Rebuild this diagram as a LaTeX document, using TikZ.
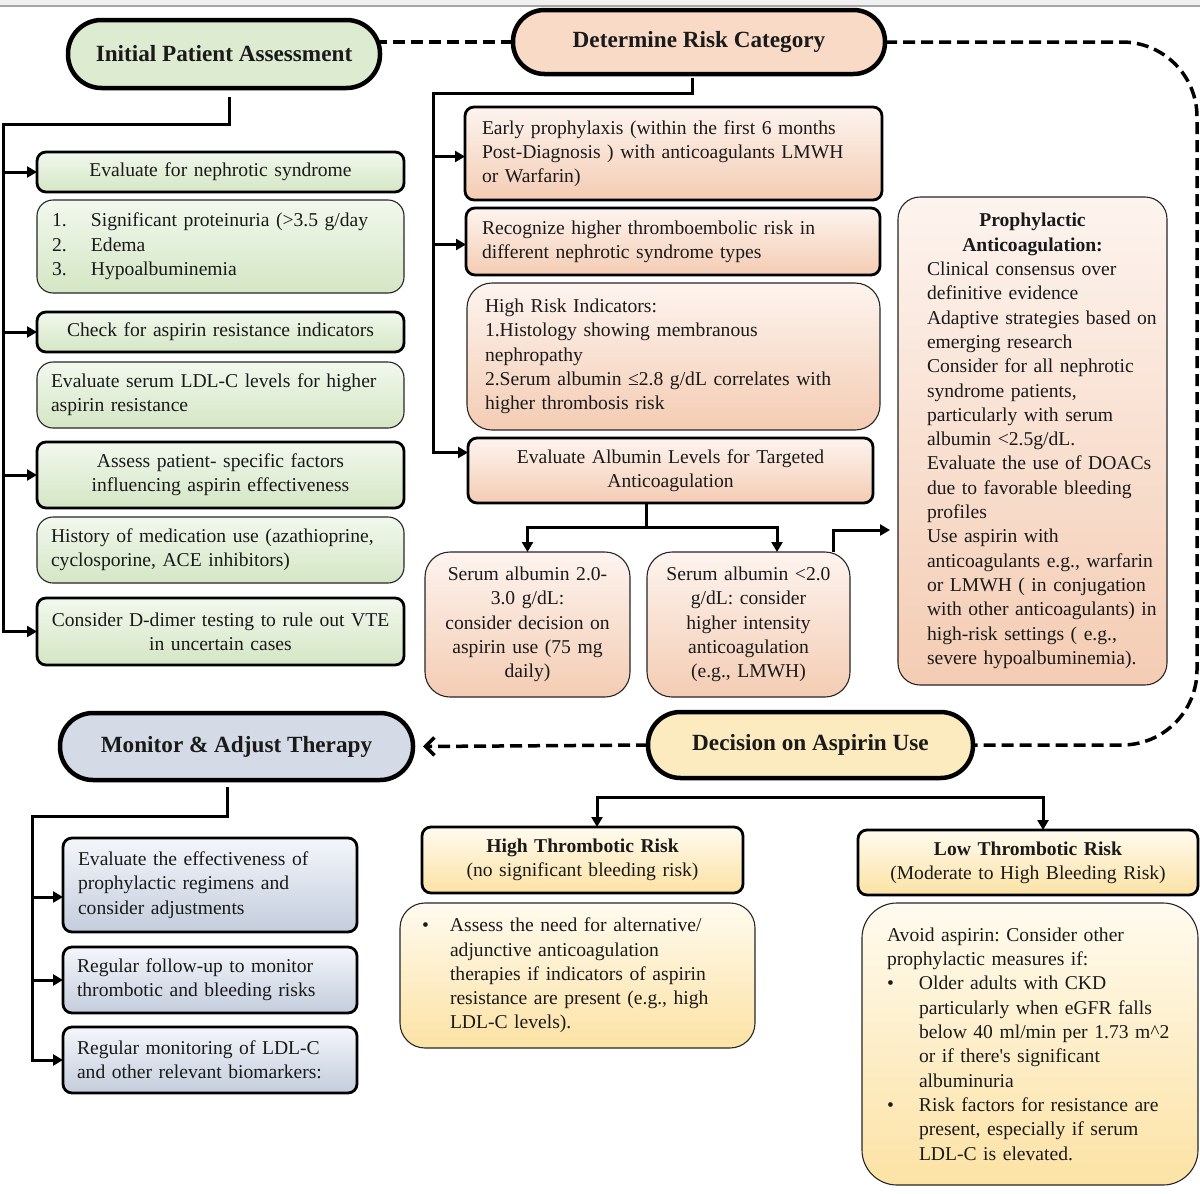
\documentclass[tikz,border=0pt]{standalone}
\usepackage{fontspec}
\setmainfont{Liberation Serif}
\usetikzlibrary{arrows.meta}
\definecolor{ink}{HTML}{1A1A1A}
\definecolor{gT}{HTML}{F2F8EE}
\definecolor{gB}{HTML}{D4E6C4}
\definecolor{gF}{HTML}{DDEBD0}
\definecolor{pT}{HTML}{FDF4EF}
\definecolor{pB}{HTML}{F4CCB3}
\definecolor{pF}{HTML}{F9DAC7}
\definecolor{bT}{HTML}{F4F6FA}
\definecolor{bB}{HTML}{C4CDDD}
\definecolor{bF}{HTML}{D4DAE6}
\definecolor{yT}{HTML}{FFFBEF}
\definecolor{yB}{HTML}{FCE2A4}
\definecolor{yF}{HTML}{FCEBBE}
\newcommand\fsb{\fontsize{19.6}{24.3}\selectfont}
\newcommand\fst{\fontsize{23.2}{27}\selectfont\bfseries}
\frenchspacing
\begin{document}
\frenchspacing
\begin{tikzpicture}[x=1pt,y=-1pt,
  txt/.style={text=ink, font=\fsb, inner sep=0pt, outer sep=0pt},
  thickbox/.style={txt, draw=black, line width=2.8pt, rounded corners=9pt},
  thinbox/.style={txt, draw=black!85, line width=1.1pt, rounded corners=16pt},
  titlebox/.style={draw=black, line width=4.5pt, text=ink, font=\fst, inner sep=0pt, outer sep=0pt},
  grn/.style={top color=gT, bottom color=gB},
  pch/.style={top color=pT, bottom color=pB},
  blu/.style={top color=bT, bottom color=bB},
  ylw/.style={top color=yT, bottom color=yB},
  conn/.style={line width=3pt, draw=black},
  arr/.style={conn, -{Triangle[length=10pt,width=11pt]}},
  dashl/.style={line width=3.5pt, dash pattern=on 12pt off 6pt},
]
\useasboundingbox (0,0) rectangle (1200,1194);
\fill[white] (0,0) rectangle (1200,1194);
\fill[black!6] (0,0) rectangle (1200,5);
\draw[black!35, line width=1.2pt] (0,6) -- (1200,6);

% ---------- title nodes
\node[titlebox, fill=gF, rounded corners=33.5pt, minimum width=312pt, minimum height=68pt] (ini) at (224,54) {Initial Patient Assessment};
\node[titlebox, fill=pF, rounded corners=31.5pt, minimum width=372pt, minimum height=64pt] (det) at (699,42) {Determine Risk Category};
\node[titlebox, fill=yF, rounded corners=32.5pt, minimum width=325pt, minimum height=66pt] (dec) at (810.5,745) {Decision on Aspirin Use};
\node[titlebox, fill=bF, rounded corners=33pt, minimum width=353pt, minimum height=67pt] (mon) at (236.5,746.5) {Monitor \& Adjust Therapy};

% ---------- green column
\node[thickbox, grn, minimum width=367pt, minimum height=40pt, text width=357pt, align=center] (g1) at (220.5,172) {Evaluate for nephrotic syndrome};
\node[thinbox, grn, minimum width=367pt, minimum height=93pt, text width=337pt, align=left] (g2) at (220.5,246.5) {\makebox[39pt][l]{1.}Significant proteinuria (>3.5 g/day\\\makebox[39pt][l]{2.}Edema\\\makebox[39pt][l]{3.}Hypoalbuminemia};
\node[thickbox, grn, minimum width=367pt, minimum height=40pt, text width=357pt, align=center] (g3) at (220.5,332) {Check for aspirin resistance indicators};
\node[thinbox, grn, minimum width=367pt, minimum height=66pt, text width=339pt, align=left] (g4) at (220.5,395) {Evaluate serum LDL-C levels for higher\\aspirin resistance};
\node[thickbox, grn, minimum width=367pt, minimum height=66pt, text width=357pt, align=center] (g5) at (220.5,475) {Assess patient- specific factors\\influencing aspirin effectiveness};
\node[thinbox, grn, minimum width=367pt, minimum height=66pt, text width=339pt, align=left] (g6) at (220.5,550) {\rightskip=-30pt plus 1fil History of medication use (azathioprine,\\cyclosporine, ACE inhibitors)};
\node[thickbox, grn, minimum width=367pt, minimum height=67pt, text width=361pt, align=center] (g7) at (220.5,631.5) {Consider D-dimer testing to rule out VTE\\in uncertain cases};

% ---------- peach column
\node[thickbox, pch, minimum width=417pt, minimum height=93pt, text width=383pt, align=left] (pA) at (673.5,153.5) {\rightskip=-30pt plus 1fil Early prophylaxis (within the first 6 months\\Post-Diagnosis ) with anticoagulants LMWH\\or Warfarin)};
\node[thickbox, pch, minimum width=414pt, minimum height=67pt, text width=382pt, align=left] (pB) at (673,241.5) {Recognize higher thromboembolic risk in\\different nephrotic syndrome types};
\node[thinbox, pch, rounded corners=25pt, minimum width=413pt, minimum height=147pt, text width=377pt, align=left] (pC) at (673.5,356.5) {\rightskip=-30pt plus 1fil High Risk Indicators:\\1.Histology showing membranous\\nephropathy\\2.Serum albumin ≤2.8 g/dL correlates with\\higher thrombosis risk};
\node[thickbox, pch, minimum width=405pt, minimum height=65pt, text width=385pt, align=center] (pD) at (670.5,470.5) {Evaluate Albumin Levels for Targeted\\Anticoagulation};
\node[thinbox, pch, rounded corners=25pt, minimum width=205pt, minimum height=145pt, text width=199pt, align=center] (pE) at (527.5,624.5) {Serum albumin 2.0-\\3.0 g/dL:\\consider decision on\\aspirin use (75 mg\\daily)};
\node[thinbox, pch, rounded corners=25pt, minimum width=203pt, minimum height=145pt, text width=197pt, align=center] (pF) at (748.5,624.5) {Serum albumin <2.0\\g/dL: consider\\higher intensity\\anticoagulation\\(e.g., LMWH)};
\node[thinbox, pch, rounded corners=22pt, minimum width=269pt, minimum height=488pt, text width=269pt, align=left] (pG) at (1032.5,441) {{\centering\bfseries Prophylactic\\Anticoagulation:\par}\raggedright\leftskip=29pt\rightskip=-30pt plus 1fil Clinical consensus over\\definitive evidence\\Adaptive strategies based on\\emerging research\\Consider for all nephrotic\\syndrome patients,\\particularly with serum\\albumin <2.5g/dL.\\Evaluate the use of DOACs\\due to favorable bleeding\\profiles\\Use aspirin with\\anticoagulants e.g., warfarin\\or LMWH ( in conjugation\\with other anticoagulants) in\\high-risk settings ( e.g.,\\severe hypoalbuminemia).\par};

% ---------- yellow (decision) column
\node[thickbox, ylw, minimum width=321pt, minimum height=66pt, text width=315pt, align=center] (hH) at (582.5,860) {{\bfseries High Thrombotic Risk}\\(no significant bleeding risk)};
\node[thinbox, ylw, rounded corners=25pt, minimum width=355pt, minimum height=145pt, text width=311pt, align=left] (hI) at (577.5,975.5) {\rightskip=-30pt plus 1fil\makebox[28pt][l]{\textbullet}Assess the need for alternative/\\\hspace*{28pt}adjunctive anticoagulation\\\hspace*{28pt}therapies if indicators of aspirin\\\hspace*{28pt}resistance are present (e.g., high\\\hspace*{28pt}LDL-C levels).};
\node[thickbox, ylw, minimum width=340pt, minimum height=65pt, text width=334pt, align=center] (hJ) at (1028,862.5) {{\bfseries Low Thrombotic Risk}\\(Moderate to High Bleeding Risk)};
\node[thinbox, ylw, rounded corners=35pt, minimum width=336pt, minimum height=282pt, text width=286pt, align=left] (hK) at (1030,1044) {\rightskip=-30pt plus 1fil Avoid aspirin: Consider other\\prophylactic measures if:\\\makebox[32pt][l]{\textbullet}Older adults with CKD\\\hspace*{32pt}particularly when eGFR falls\\\hspace*{32pt}below 40 ml/min per 1.73 m\textasciicircum 2\\\hspace*{32pt}or if there\textquotesingle s significant\\\hspace*{32pt}albuminuria\\\makebox[32pt][l]{\textbullet}Risk factors for resistance are\\\hspace*{32pt}present, especially if serum\\\hspace*{32pt}LDL-C is elevated.};

% ---------- blue column
\node[thickbox, blu, minimum width=294pt, minimum height=94pt, text width=264pt, align=left] (bL) at (210,885) {Evaluate the effectiveness of\\prophylactic regimens and\\consider adjustments};
\node[thickbox, blu, minimum width=294pt, minimum height=66pt, text width=266pt, align=left] (bM) at (210,980) {Regular follow-up to monitor\\thrombotic and bleeding risks};
\node[thickbox, blu, minimum width=294pt, minimum height=66pt, text width=266pt, align=left] (bN) at (210,1060) {Regular monitoring of LDL-C\\and other relevant biomarkers:};

% ---------- trunk coordinates
\coordinate (gtr) at (3,124);
\coordinate (ptr) at (433,93);
\coordinate (btr) at (32,816);
\coordinate (rt) at (1197,0);

% ---------- green connectors
\draw[arr] ([xshift=5pt,yshift=-9pt]ini.south) |- (gtr) |- (g7.west);
\draw[arr] (gtr |- g1.west) -- (g1.west);
\draw[arr] (gtr |- g3.west) -- (g3.west);
\draw[arr] (gtr |- g5.west) -- (g5.west);

% ---------- peach connectors
\draw[arr] ([xshift=-7pt,yshift=-4pt]det.south) |- (ptr) |- ([yshift=18pt]pD.west);
\draw[arr] ([yshift=-3pt]ptr |- pA.west) -- ([yshift=-3pt]pA.west);
\draw[arr] ([yshift=-3pt]ptr |- pB.west) -- ([yshift=-3pt]pB.west);
\draw[conn] ([xshift=-24.5pt]pD.south) -- ++(0,24);
\draw[conn, {Triangle[length=10pt,width=11pt]}-{Triangle[length=10pt,width=11pt]}] (pE.north) -- ++(0,-25) -| ([xshift=28.5pt]pF.north);
\draw[arr] ([xshift=-17pt]pF.north east) |- ([xshift=-8pt,yshift=-89pt]pG.west);

% ---------- decision connectors
\draw[conn, {Triangle[length=10pt,width=11pt]}-{Triangle[length=10pt,width=11pt]}] ([xshift=14.5pt]hH.north) -- ++(0,-30) -| ([xshift=15pt]hJ.north);

% ---------- blue connectors
\draw[arr] ([xshift=-9.5pt,yshift=-7pt]mon.south) |- (btr) |- (bN.west);
\draw[arr] (btr |- bM.west) -- (bM.west);
\draw[arr] ([yshift=-12pt]btr |- bL.west) -- ([yshift=-12pt]bL.west);

% ---------- dashed flow
\draw[dashl] (det.west) -- (det.west -| ini.east);
\draw[dashl, rounded corners=75pt] (det.east) -- (det.east -| rt) -- (dec.east -| rt) -- (dec.east);
\draw[dashl, -{Straight Barb[length=9pt,width=18pt,line width=3.5pt]}] (dec.west) -- ([xshift=10pt]mon.east);
\end{tikzpicture}
\end{document}
